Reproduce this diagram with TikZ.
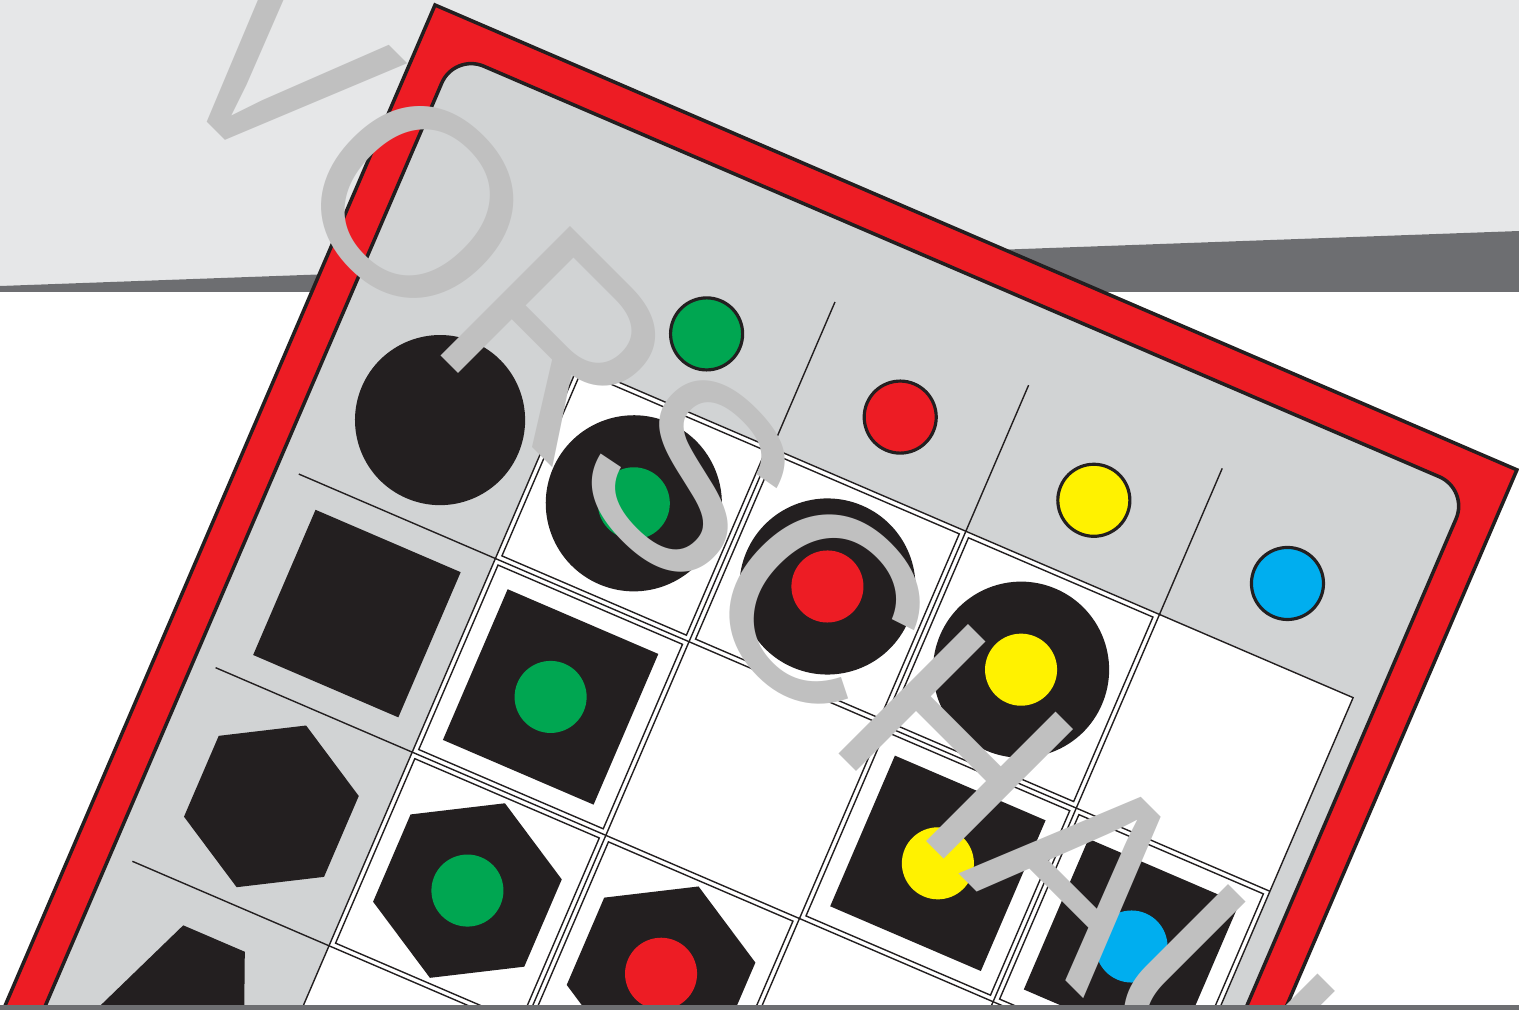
\documentclass[tikz,border=0pt]{standalone}
\usepackage{fontspec}
\setmainfont{Liberation Sans}
\definecolor{rahmen}{HTML}{ED1C24}
\definecolor{tafel}{HTML}{D1D3D4}
\definecolor{tisch}{HTML}{E6E7E8}
\definecolor{kante}{HTML}{6D6E71}
\definecolor{figur}{HTML}{231F20}
\definecolor{gruen}{HTML}{00A651}
\definecolor{rot}{HTML}{ED1C24}
\definecolor{gelb}{HTML}{FFF200}
\definecolor{blau}{HTML}{00AEEF}
\definecolor{wasser}{HTML}{C0C0C0}
\usetikzlibrary{calc}

\begin{document}
\begin{tikzpicture}[x=0.01cm, y=-0.01cm,
  kontur/.style={draw=figur, line width=1pt},
  linie/.style={draw=figur, line width=0.4pt},
  karte/.style={linie, fill=white},
  punkt/.style={draw=figur, line width=0.9pt},
  wz/.style={text=wasser, font=\fontsize{75.7}{80}\selectfont,
             inner sep=0pt, rotate=-45, anchor=base west},
]
\useasboundingbox (0,0) rectangle (1519,1010);
\clip (0,0) rectangle (1519,1010);

% tisch
\fill[white] (0,0) rectangle (1519,1010);
\fill[tisch] (0,0) -- (1519,0) -- (1519,231) -- (0,286) -- cycle;
\fill[kante] (0,286) -- (1519,231) -- (1519,292) -- (0,292) -- cycle;

% spielbrett
\begin{scope}[shift={(435,5)}, rotate=-23.25]
  \draw[kontur, fill=rahmen] (0,0) rectangle (1177.6,1400);
  \draw[kontur, fill=tafel, rounded corners=0.32cm] (37,37) rectangle (1141,1400);
  \draw[linie, fill=white] (274,274) rectangle (1117,1400);

  % raster
  \foreach \k in {1,2,3} {
    \draw[linie] ({274+\k*210.75},115) -- ({274+\k*210.75},1400);
    \draw[linie] (60,{274+\k*210.75}) -- (1117,{274+\k*210.75});
  }

  % farbpunkte oben
  \foreach \k/\f in {1/gruen, 2/rot, 3/gelb, 4/blau}
    \draw[punkt, fill=\f] ({274+(\k-0.5)*210.75},195) circle (0.36cm);

  % formen links
  \fill[figur] (168.5,379.4) circle (0.85cm);
  \fill[figur] (89.5,511) rectangle (247.5,669);
  \begin{scope}[shift={(166,800.9)}]
    \fill[figur] (30:88) \foreach \t in {90,150,...,330} { -- (\t:88)} -- cycle;
  \end{scope}
  \fill[figur] (132,945) -- (199,945) -- (250,1067) -- (165.5,1140) -- (81,1067) -- cycle;

  % karten
  \foreach \s/\z/\f in {1/1/gruen, 2/1/rot, 3/1/gelb} {
    \begin{scope}[shift={({274+(\s-0.5)*210.75},{274+(\z-0.5)*210.75})}]
      \draw[karte] (-100.4,-100.4) rectangle (100.4,100.4);
      \fill[figur] (0,0) circle (0.88cm);
      \fill[\f] (0,0) circle (0.36cm);
    \end{scope}
  }
  \foreach \s/\z/\f in {1/2/gruen, 3/2/gelb, 4/2/blau} {
    \begin{scope}[shift={({274+(\s-0.5)*210.75},{274+(\z-0.5)*210.75})}]
      \draw[karte] (-100.4,-100.4) rectangle (100.4,100.4);
      \fill[figur] (-82,-82) rectangle (82,82);
      \fill[\f] (0,0) circle (0.36cm);
    \end{scope}
  }
  \foreach \s/\z/\f in {1/3/gruen, 2/3/rot} {
    \begin{scope}[shift={({274+(\s-0.5)*210.75},{274+(\z-0.5)*210.75})}]
      \draw[karte] (-100.4,-100.4) rectangle (100.4,100.4);
      \fill[figur] (30:95) \foreach \t in {90,150,...,330} { -- (\t:95)} -- cycle;
      \fill[\f] (0,0) circle (0.36cm);
    \end{scope}
  }
\end{scope}

% wasserzeichen
\node[wz] (vorschau) at (153.2,68.2) {VORSCHAU};

% unterkante
\fill[kante] (0,1005) rectangle (1519,1010);
\end{tikzpicture}
\end{document}
